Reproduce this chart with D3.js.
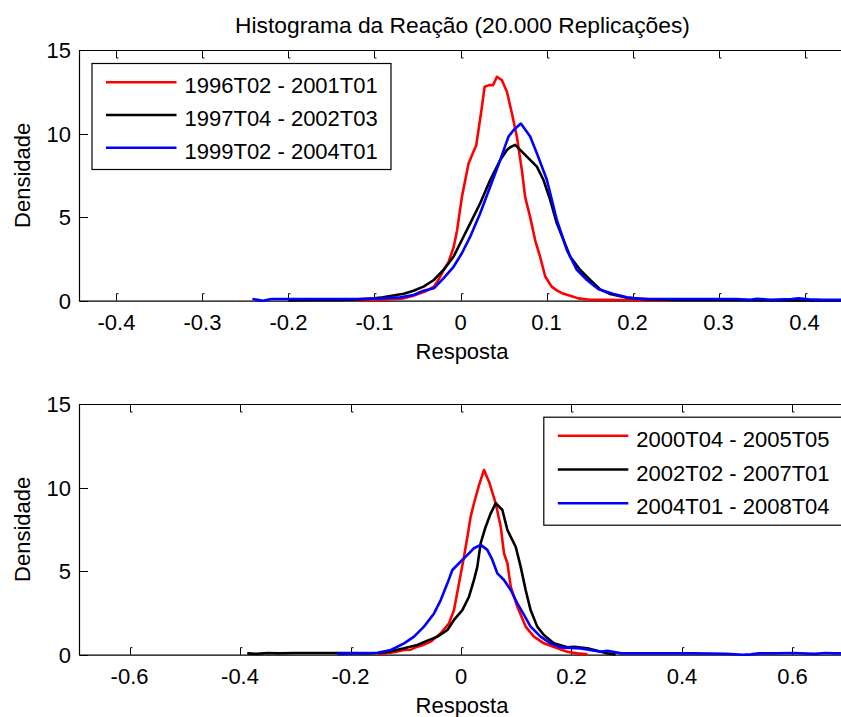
<!doctype html>
<html lang="pt">
<head>
  <meta charset="utf-8">
  <script src="https://d3js.org/d3.v7.min.js"></script>
  <style>
    body { margin: 0; background: #fff; }
    text { font-family: "Liberation Sans", Arial, Helvetica, sans-serif; fill: #000; }
  </style>
</head>
<body>
  <script>
    var width = 841,
        height = 717;

    // --- data ---
    var titulo = "Histograma da Reação (20.000 Replicações)";

    // top panel
    var topNames = ["1996T02 - 2001T01", "1997T04 - 2002T03", "1999T02 - 2004T01"];
    var topXTicks = [-0.4, -0.3, -0.2, -0.1, 0, 0.1, 0.2, 0.3, 0.4];
    var yTicks = [0, 5, 10, 15];

    var topRedX = [-0.12, -0.1, -0.085, -0.075, -0.066, -0.055, -0.047, -0.039, -0.031, -0.025, -0.02, -0.014, -0.008, -0.004, 0.0016, 0.0055, 0.0093, 0.0133, 0.0183, 0.0209, 0.0249, 0.028, 0.033, 0.038, 0.0423, 0.048, 0.054, 0.0598, 0.0656, 0.0714, 0.0752, 0.081, 0.0869, 0.0927, 0.0985, 0.106, 0.112, 0.118, 0.1276, 0.137, 0.15, 0.17, 0.19, 0.21, 0.24];
    var topRedY = [0.02, 0.05, 0.08, 0.1, 0.14, 0.3, 0.44, 0.6, 0.84, 1.3, 1.8, 2.3, 3.2, 4.2, 6.2, 7.2, 8.2, 8.7, 9.3, 10.2, 11.6, 12.8, 12.9, 12.9, 13.4, 13.2, 12.5, 11.2, 9.8, 7.8, 6.2, 5.0, 3.6, 2.6, 1.45, 0.84, 0.62, 0.45, 0.3, 0.14, 0.06, 0.05, 0.04, 0.03, 0.02];

    var topBlackX = [-0.2, -0.17, -0.14, -0.12, -0.1, -0.09, -0.08, -0.066, -0.0546, -0.043, -0.031, -0.0198, -0.0081, 0.0016, 0.0113, 0.0229, 0.0345, 0.0462, 0.054, 0.0578, 0.0636, 0.0694, 0.0772, 0.0888, 0.0965, 0.1043, 0.112, 0.1198, 0.1276, 0.1392, 0.1508, 0.1624, 0.174, 0.1935, 0.22, 0.26, 0.3, 0.35, 0.4, 0.45];
    var topBlackY = [0.02, 0.05, 0.04, 0.08, 0.15, 0.2, 0.3, 0.42, 0.6, 0.84, 1.24, 1.84, 2.63, 3.63, 4.63, 5.83, 7.22, 8.42, 9.02, 9.18, 9.32, 9.02, 8.62, 8.02, 7.22, 6.03, 4.63, 3.63, 2.63, 1.84, 1.24, 0.68, 0.4, 0.18, 0.08, 0.05, 0.04, 0.03, 0.02, 0.02];

    var topBlueX = [-0.242, -0.236, -0.23, -0.22, -0.2, -0.17, -0.14, -0.11, -0.09, -0.07, -0.0546, -0.043, -0.031, -0.0198, -0.0081, 0.0016, 0.0113, 0.0229, 0.0345, 0.0462, 0.0558, 0.0616, 0.0702, 0.081, 0.0888, 0.1005, 0.112, 0.1237, 0.1353, 0.147, 0.1605, 0.178, 0.1935, 0.21, 0.25, 0.29, 0.32, 0.337, 0.345, 0.36, 0.385, 0.393, 0.405, 0.42, 0.45];
    var topBlueY = [0.1, 0.05, 0.0, 0.1, 0.1, 0.1, 0.1, 0.1, 0.15, 0.2, 0.34, 0.6, 0.74, 1.34, 2.03, 2.84, 3.83, 5.23, 6.82, 8.42, 9.82, 10.2, 10.6, 9.82, 8.82, 7.22, 4.83, 3.03, 1.84, 1.24, 0.68, 0.4, 0.2, 0.1, 0.1, 0.1, 0.1, 0.05, 0.12, 0.05, 0.1, 0.14, 0.08, 0.05, 0.05];

    // bottom panel
    var botNames = ["2000T04 - 2005T05", "2002T02 - 2007T01", "2004T01 - 2008T04"];
    var botXTicks = [-0.6, -0.4, -0.2, 0, 0.2, 0.4, 0.6];

    var botRedX = [-0.15, -0.14, -0.127, -0.115, -0.103, -0.091, -0.079, -0.067, -0.0548, -0.0367, -0.0217, -0.0127, -0.0036, 0.0054, 0.0116, 0.0175, 0.0235, 0.0326, 0.0417, 0.0507, 0.0628, 0.0719, 0.0778, 0.084, 0.09, 0.102, 0.117, 0.132, 0.15, 0.1745, 0.1926, 0.21, 0.229];
    var botRedY = [0.03, 0.08, 0.12, 0.2, 0.28, 0.3, 0.48, 0.6, 0.78, 1.28, 1.88, 2.67, 4.27, 5.86, 7.06, 8.26, 9.06, 10.15, 11.05, 10.35, 9.06, 7.66, 6.07, 5.47, 4.07, 2.87, 1.68, 1.08, 0.68, 0.38, 0.18, 0.08, 0.02];

    var botBlackX = [-0.387, -0.37, -0.35, -0.33, -0.3, -0.27, -0.24, -0.2, -0.17, -0.15, -0.127, -0.103, -0.079, -0.0608, -0.0427, -0.0246, -0.0127, 0.0025, 0.0145, 0.0235, 0.0296, 0.0356, 0.0447, 0.0538, 0.0628, 0.0749, 0.084, 0.099, 0.108, 0.117, 0.126, 0.138, 0.15, 0.168, 0.1926, 0.2045, 0.229, 0.25, 0.265, 0.28];
    var botBlackY = [0.08, 0.05, 0.1, 0.08, 0.1, 0.1, 0.1, 0.1, 0.08, 0.1, 0.2, 0.38, 0.58, 0.84, 1.08, 1.48, 2.08, 2.67, 3.47, 4.47, 5.27, 6.67, 7.66, 8.46, 9.06, 8.66, 7.46, 6.46, 5.27, 3.87, 2.67, 1.68, 1.18, 0.68, 0.44, 0.48, 0.38, 0.2, 0.08, 0.02];

    var botBlueX = [-0.224, -0.2, -0.17, -0.151, -0.127, -0.103, -0.085, -0.067, -0.0488, -0.0367, -0.0246, -0.0156, -0.0036, 0.0116, 0.0235, 0.0356, 0.0477, 0.0568, 0.0658, 0.0778, 0.09, 0.102, 0.114, 0.126, 0.144, 0.162, 0.18, 0.2167, 0.2528, 0.265, 0.29, 0.35, 0.42, 0.48, 0.51, 0.525, 0.54, 0.57, 0.6, 0.64, 0.66, 0.675, 0.69];
    var botBlueY = [0.05, 0.08, 0.1, 0.12, 0.28, 0.68, 1.08, 1.68, 2.47, 3.27, 4.27, 5.07, 5.47, 5.97, 6.37, 6.57, 6.27, 5.67, 4.87, 4.47, 3.87, 3.07, 2.38, 1.68, 1.08, 0.68, 0.44, 0.38, 0.18, 0.24, 0.08, 0.08, 0.08, 0.06, 0.0, 0.02, 0.08, 0.08, 0.1, 0.05, 0.1, 0.08, 0.08];

    var cores = ["#ff0000", "#000000", "#0000ff"];

    var svg = d3.select("body").append("svg")
        .attr("width", width)
        .attr("height", height);

    svg.append("text")
        .attr("x", 462.5).attr("y", 33)
        .attr("text-anchor", "middle")
        .style("font-size", "22.8px")
        .text(titulo);

    function zip(xs, ys) {
      return xs.map(function(x, i) { return [x, ys[i]]; });
    }

    // draws one panel (MATLAB style: inward ticks, legend box)
    function painel(opt) {
      var x = d3.scaleLinear().domain(opt.xDomain).range([opt.left, opt.right]);
      var y = d3.scaleLinear().domain([0, 15]).range([opt.bottom, opt.top]);
      var g = svg.append("g");

      g.append("clipPath").attr("id", opt.id)
        .append("rect")
          .attr("x", opt.left).attr("y", opt.top - 2)
          .attr("width", opt.right - opt.left).attr("height", opt.bottom - opt.top + 4);

      // axis lines
      g.append("path")
          .attr("d", "M" + opt.right + "," + (opt.top + 0.5) + "H" + (opt.left + 0.5) +
                     "V" + (opt.bottom + 0.5) + "H" + opt.right)
          .attr("fill", "none").attr("stroke", "#000").attr("stroke-width", 1.2);

      // x ticks bottom and top
      g.selectAll(".xtb").data(opt.xTicks).enter().append("path")
          .attr("d", function(d) { var px = Math.round(x(d)) + 0.5;
            return "M" + px + "," + opt.bottom + "V" + (opt.bottom - 7) + "h2"; })
          .attr("fill", "none").attr("stroke", "#000").attr("stroke-width", 1);
      g.selectAll(".xtt").data(opt.xTicks).enter().append("path")
          .attr("d", function(d) { var px = Math.round(x(d)) + 0.5;
            return "M" + px + "," + (opt.top + 1) + "V" + (opt.top + 8) + "h2"; })
          .attr("fill", "none").attr("stroke", "#000").attr("stroke-width", 1);
      g.selectAll(".ytl").data(yTicks).enter().append("path")
          .attr("d", function(d) { var py = Math.round(y(d)) + 0.5;
            return "M" + (opt.left + 1) + "," + py + "H" + (opt.left + 9); })
          .attr("fill", "none").attr("stroke", "#000").attr("stroke-width", 1);

      // tick labels (plain hyphen for negatives, as in the original)
      g.selectAll(".xl").data(opt.xTicks).enter().append("text")
          .attr("x", function(d) { return x(d); })
          .attr("y", opt.bottom + 29)
          .attr("text-anchor", "middle")
          .style("font-size", "22px")
          .text(function(d) { return String(d); });
      g.selectAll(".yl").data(yTicks).enter().append("text")
          .attr("x", opt.left - 8)
          .attr("y", function(d) { return y(d) + 8; })
          .attr("text-anchor", "end")
          .style("font-size", "22px")
          .text(function(d) { return d; });

      // axis labels
      g.append("text")
          .attr("x", 462).attr("y", opt.bottom + 58)
          .attr("text-anchor", "middle")
          .style("font-size", "22px")
          .text("Resposta");
      g.append("text")
          .attr("transform", "translate(30," + ((opt.top + opt.bottom) / 2) + ") rotate(-90)")
          .attr("text-anchor", "middle")
          .style("font-size", "22px")
          .text("Densidade");

      // curves
      var line = d3.line()
          .x(function(d) { return x(d[0]); })
          .y(function(d) { return y(d[1]); });
      g.append("g").attr("clip-path", "url(#" + opt.id + ")")
        .selectAll("path").data(opt.series).enter().append("path")
          .attr("d", line)
          .attr("fill", "none")
          .attr("stroke", function(d, i) { return cores[i]; })
          .attr("stroke-width", 2.6)
          .attr("stroke-linejoin", "round");

      // legend
      var lg = g.append("g");
      lg.append("rect")
          .attr("x", opt.leg[0] + 0.5).attr("y", opt.leg[1] + 0.5)
          .attr("width", 299).attr("height", opt.leg[2])
          .attr("fill", "#fff").attr("stroke", "#000").attr("stroke-width", 1.2);
      opt.names.forEach(function(n, i) {
        var ry = opt.leg[1] + opt.rowStart + i * opt.rowStep;
        lg.append("line")
            .attr("x1", opt.leg[0] + 14.5).attr("x2", opt.leg[0] + 85)
            .attr("y1", ry).attr("y2", ry)
            .attr("stroke", cores[i]).attr("stroke-width", 2.6);
        lg.append("text")
            .attr("x", opt.leg[0] + 93).attr("y", ry + 11)
            .style("font-size", "22px")
            .text(n);
      });
    }

    painel({
      id: "clipTop",
      left: 79, right: 842, top: 50, bottom: 300.7,
      xDomain: [-0.4436, 0.4436],
      xTicks: topXTicks,
      series: [zip(topRedX, topRedY), zip(topBlackX, topBlackY), zip(topBlueX, topBlueY)],
      names: topNames,
      leg: [91.5, 63, 106], rowStart: 19.3, rowStep: 32.7
    });

    painel({
      id: "clipBot",
      left: 79, right: 843, top: 404, bottom: 654.7,
      xDomain: [-0.6915, 0.6915],
      xTicks: botXTicks,
      series: [zip(botRedX, botRedY), zip(botBlackX, botBlackY), zip(botBlueX, botBlueY)],
      names: botNames,
      leg: [543.3, 416.7, 108], rowStart: 19, rowStep: 33.8
    });
  </script>
</body>
</html>
